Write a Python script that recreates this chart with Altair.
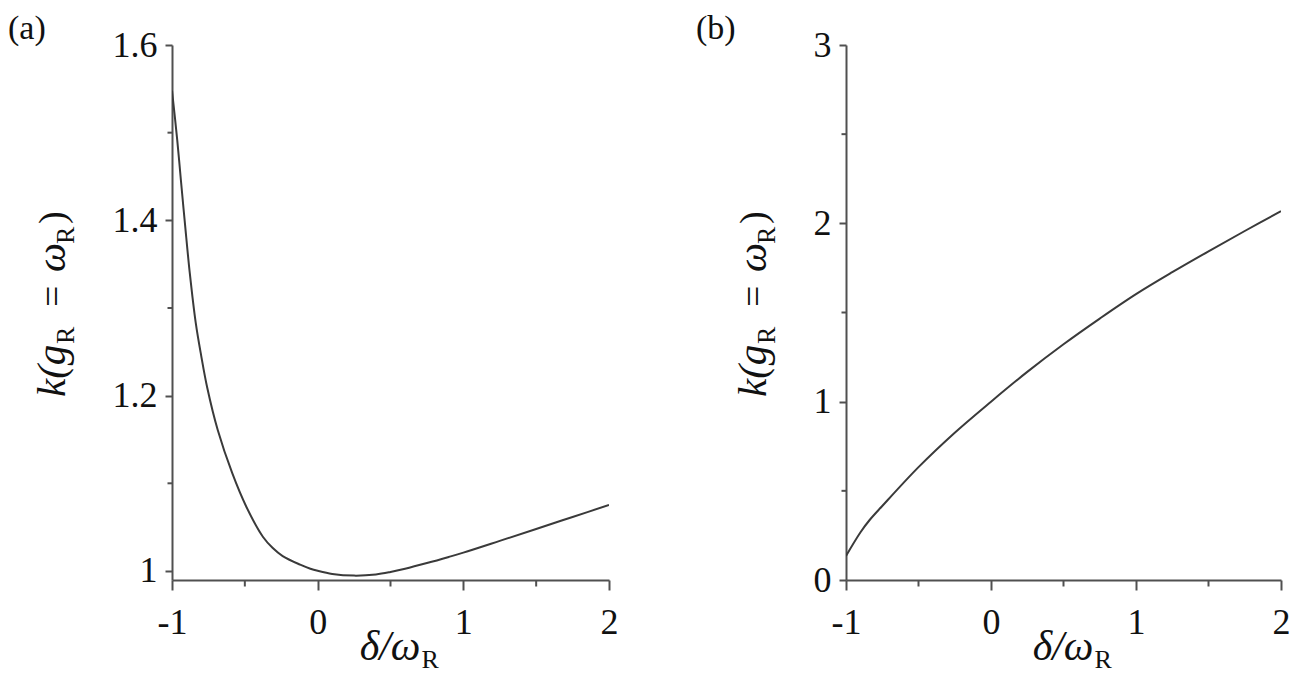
import altair as alt
import pandas as pd

# ---------------- data ----------------
delta_a = [-1.0, -0.964, -0.939, -0.909, -0.878, -0.837, -0.80, -0.758, -0.686, -0.587,
           -0.489, -0.375, -0.31, -0.24, -0.12, -0.05, 0.0, 0.1, 0.25, 0.4, 0.5, 0.6, 0.75,
           0.9, 1.0, 1.25, 1.5, 1.75, 2.0]
k_a = [1.548, 1.4916, 1.446, 1.3925, 1.34, 1.283, 1.246, 1.209, 1.1608, 1.1118,
       1.073, 1.0388, 1.0265, 1.0170, 1.0072, 1.0026, 1.0002, 0.9966, 0.9947, 0.9960, 0.9988,
       1.0025, 1.0090, 1.0160, 1.0209, 1.0343, 1.0479, 1.0616, 1.0753]

delta_b = [-1.0, -0.9, -0.837, -0.75, -0.5, -0.25, 0.0, 0.25, 0.5, 0.75,
           1.0, 1.25, 1.5, 1.75, 2.0]
k_b = [0.135, 0.268, 0.3365, 0.415, 0.633, 0.826, 1.0, 1.167, 1.322, 1.466,
       1.603, 1.726, 1.843, 1.957, 2.068]

x_major = [-1, 0, 1, 2]
x_minor = [-0.5, 0.5, 1.5]
ya_major = [1.0, 1.2, 1.4, 1.6]
ya_minor = [1.1, 1.3, 1.5]
yb_major = [0, 1, 2, 3]
yb_minor = [0.5, 1.5, 2.5]

SERIF = "Liberation Serif"
AX = "#505050"
LINE = "#3a3a3a"
TXT = "#111111"
H = 535


def txt(s, x, y, size, italic=False, angle=0, align="left"):
    return alt.Chart(pd.DataFrame({"t": [s]})).mark_text(
        font=SERIF, fontSize=size, fontStyle="italic" if italic else "normal",
        angle=angle, align=align, baseline="alphabetic", color=TXT
    ).encode(x=alt.value(x), y=alt.value(y), text="t:N")


def panel(delta, k, ydom, ymaj, ymin, width, tag, tag_x, ytx):
    xs = alt.Scale(domain=[-1, 2], nice=False, zero=False)
    ys = alt.Scale(domain=ydom, nice=False, zero=False)
    xaxis = alt.Axis(values=x_major, title="", grid=False, domainColor=AX, domainWidth=2,
                     tickColor=AX, tickWidth=2, tickSize=10, labelPadding=15,
                     labelFont=SERIF, labelFontSize=36, labelColor=TXT,
                     labelFlush=False, labelOverlap=False, labelExpr="'' + datum.value")
    yaxis = alt.Axis(values=ymaj, title="", grid=False, domainColor=AX, domainWidth=2,
                     tickColor=AX, tickWidth=2, tickSize=7, labelPadding=8,
                     labelFont=SERIF, labelFontSize=36, labelColor=TXT,
                     labelOverlap=False, labelExpr="'' + datum.value")
    line = alt.Chart(pd.DataFrame({"d": delta, "k": k})).mark_line(
        color=LINE, strokeWidth=2, clip=True, interpolate="catmull-rom"
    ).encode(x=alt.X("d:Q", scale=xs, axis=xaxis), y=alt.Y("k:Q", scale=ys, axis=yaxis))
    yminor = alt.Chart(pd.DataFrame({"k": ymin})).mark_rule(color=AX, strokeWidth=2).encode(
        y=alt.Y("k:Q", scale=ys, axis=yaxis), x=alt.value(-4.5), x2=alt.value(0))
    xminor = alt.Chart(pd.DataFrame({"d": x_minor})).mark_rule(color=AX, strokeWidth=2).encode(
        x=alt.X("d:Q", scale=xs, axis=xaxis), y=alt.value(H), y2=alt.value(H + 6.5))
    pieces = [
        txt(tag, tag_x, -6, 34),
        # y title  k(g_R = ω_R)
        txt("k(g", ytx, 352, 41, italic=True, angle=270),
        txt("R", ytx + 9, 299, 26, angle=270),
        txt("=", ytx, 262, 38, angle=270),
        txt("ω", ytx, 227, 41, italic=True, angle=270),
        txt("R", ytx + 9, 199, 26, angle=270),
        txt(")", ytx, 179, 38, angle=270),
        # x title  δ/ω_R
        txt("δ/ω", 0.5 * width + 30, 615, 42, italic=True, align="right"),
        txt("R", 0.5 * width + 31, 623, 26),
    ]
    return alt.layer(line, yminor, xminor, *pieces).properties(width=width, height=H)


pa = panel(delta_a, k_a, [0.9897, 1.6], ya_major, ya_minor, 437, "(a)", -164, -107)
pb = panel(delta_b, k_b, [0, 3], yb_major, yb_minor, 435, "(b)", -150, -80)

chart = alt.hconcat(pa, pb, spacing=78).properties(
    padding={"left": 0, "top": 4, "right": 0, "bottom": 0}
).configure_view(stroke=None)

chart.save("out.html", embed_options={"renderer": "svg", "actions": False})
